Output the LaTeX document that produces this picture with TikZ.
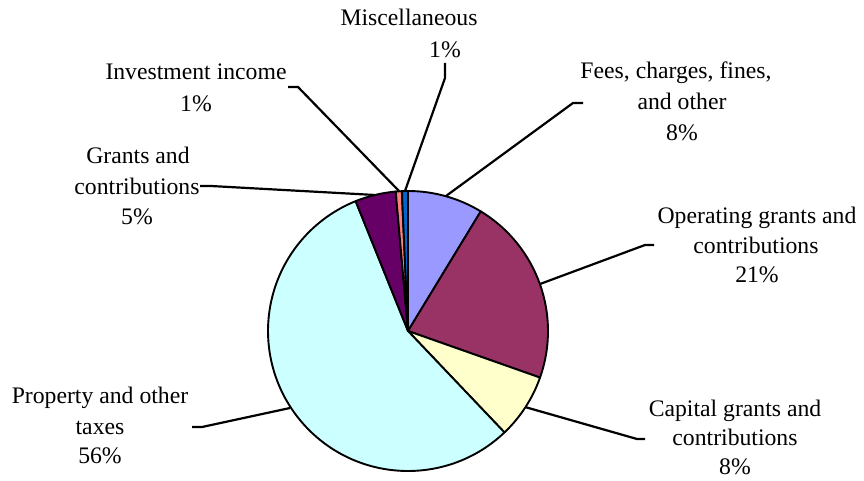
\documentclass[tikz,border=0pt]{standalone}
\usepackage{fontspec}
\setmainfont{Liberation Serif}
\definecolor{cfees}{HTML}{9999FF}
\definecolor{coper}{HTML}{993366}
\definecolor{ccap}{HTML}{FFFFCC}
\definecolor{cprop}{HTML}{CCFFFF}
\definecolor{cgrant}{HTML}{660066}
\definecolor{cinv}{HTML}{FF8080}
\definecolor{cmisc}{HTML}{0066CC}
\newcommand\mypieslice[3]{\draw[slice,fill=#3] (C) -- ++(#1:140) arc[start angle=#1,end angle=#2,radius=140] -- cycle;}
\begin{document}
\begin{tikzpicture}[x=1pt,y=-1pt,
  slice/.style={draw=black,line width=1.9pt,line join=round},
  leader/.style={draw=black,line width=2.2pt,line join=miter},
  lbl/.style={font=\fontsize{23.7}{28}\selectfont,inner sep=0pt,anchor=base}]
\useasboundingbox (0,0) rectangle (864,481);
\coordinate (C) at (408,331);
% slices (clockwise from top)
\mypieslice{-90}{-58.68}{cfees}
\mypieslice{-58.68}{19.44}{coper}
\mypieslice{19.44}{46.44}{ccap}
\mypieslice{46.44}{248.04}{cprop}
\mypieslice{248.04}{264.96}{cgrant}
\mypieslice{264.96}{267.48}{cinv}
\mypieslice{267.48}{270}{cmisc}
% labels
\node[lbl] (misc1) at (409,26) {Miscellaneous};
\node[lbl] (misc2) at (445,58) {1\%};
\node[lbl] (inv1) at (196,80) {Investment income};
\node[lbl] (inv2) at (196,112) {1\%};
\node[lbl] (fees1) at (676,79) {Fees, charges, fines,};
\node[lbl] (fees2) at (682,110) {and other};
\node[lbl] (fees3) at (682,141) {8\%};
\node[lbl] (oper1) at (757,223) {Operating grants and};
\node[lbl] (oper2) at (756,253) {contributions};
\node[lbl] (oper3) at (757,282) {21\%};
\node[lbl] (cap1) at (735,416) {Capital grants and};
\node[lbl] (cap2) at (735,445) {contributions};
\node[lbl] (cap3) at (735,474) {8\%};
\node[lbl] (prop1) at (100,403) {Property and other};
\node[lbl] (prop2) at (100,434) {taxes};
\node[lbl] (prop3) at (100,463) {56\%};
\node[lbl] (gr1) at (138,164) {Grants and};
\node[lbl] (gr2) at (137,194) {contributions};
\node[lbl] (gr3) at (137,224) {5\%};
% leader coordinates
\coordinate (mP) at (405,191); \coordinate (mK) at (445,78); \coordinate (mE) at (445,63);
\coordinate (iP) at (399,191); \coordinate (iK) at (298,87); \coordinate (iE) at (288,87);
\coordinate (gP) at (375,195); \coordinate (gK) at (211,186); \coordinate (gE) at (200,186);
\coordinate (fP) at (446,196); \coordinate (fK) at (573,103); \coordinate (fE) at (583,103);
\coordinate (oP) at (540,284); \coordinate (oK) at (645,245); \coordinate (oE) at (654,245);
\coordinate (cP) at (525,407); \coordinate (cK) at (637,439); \coordinate (cE) at (645,439);
\coordinate (pP) at (290,408); \coordinate (pK) at (202,427); \coordinate (pE) at (192,427);
\draw[leader] (mP) -- (mK) -- (mE);
\draw[leader] (iP) -- (iK) -- (iE);
\draw[leader] (gP) -- (gK) -- (gE);
\draw[leader] (fP) -- (fK) -- (fE);
\draw[leader] (oP) -- (oK) -- (oE);
\draw[leader] (cP) -- (cK) -- (cE);
\draw[leader] (pP) -- (pK) -- (pE);
\end{tikzpicture}
\end{document}
